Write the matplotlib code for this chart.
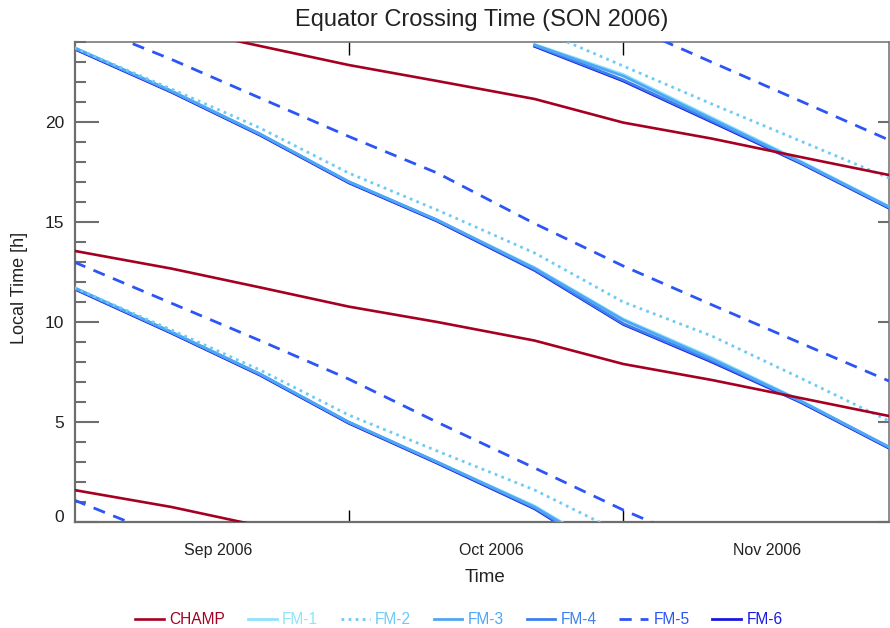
import numpy as np
import pandas as pd
import matplotlib
matplotlib.use("Agg")
import matplotlib.pyplot as plt

plt.rcParams['font.family'] = ['Liberation Sans', 'DejaVu Sans']

# ---------------- data ----------------
dates = ['2006-08-31', '2006-09-11', '2006-09-21', '2006-10-01', '2006-10-11',
         '2006-10-22', '2006-11-01', '2006-11-11', '2006-11-21', '2006-12-01']
nan = np.nan

# Local time of equator crossing [h]
champ_asc  = [13.56, 12.67, 11.73, 10.77, 10.00, 9.07, 7.90, 7.10, 6.20, 5.30]
champ_desc = [25.60, 24.75, 23.80, 22.85, 22.05, 21.15, 19.97, 19.17, 18.25, 17.35]

fm1_asc  = [11.72, 9.50, 7.40, 5.00, 3.00, 0.80, -1.85, nan, nan, nan]
fm1_desc = [23.72, 21.55, 19.40, 17.02, 15.10, 12.72, 10.15, 8.22, 6.08, 3.75]
fm1_next = [nan, nan, nan, nan, nan, 23.88, 22.38, 20.22, 18.05, 15.78]

fm2_asc  = [11.72, 9.60, 7.60, 5.35, 3.55, 1.60, -0.60, nan, nan, nan]
fm2_desc = [23.72, 21.65, 19.70, 17.45, 15.60, 13.45, 11.00, 9.30, 7.20, 5.05]
fm2_next = [nan, nan, nan, nan, nan, 24.70, 22.80, 20.90, 19.05, 17.20]

fm3_asc  = [11.72, 9.50, 7.40, 5.00, 3.00, 0.75, -1.90, nan, nan, nan]
fm3_desc = [23.72, 21.55, 19.40, 17.02, 15.10, 12.68, 10.10, 8.15, 6.05, 3.75]
fm3_next = [nan, nan, nan, nan, nan, 23.85, 22.30, 20.15, 18.00, 15.75]

fm4_asc  = [11.70, 9.48, 7.38, 4.98, 2.98, 0.70, -2.05, nan, nan, nan]
fm4_desc = [23.70, 21.53, 19.38, 17.00, 15.08, 12.62, 9.92, 8.05, 6.03, 3.73]
fm4_next = [nan, nan, nan, nan, nan, 23.82, 22.10, 20.05, 17.98, 15.73]

fm5_asc  = [13.00, 10.94, 9.07, 7.15, 4.99, 2.70, 0.60, -1.30, nan, nan]
fm5_desc = [25.10, 23.13, 21.20, 19.28, 17.45, 14.92, 12.80, 10.86, 8.95, 7.05]
fm5_next = [nan, nan, nan, nan, nan, nan, 24.94, 22.99, 21.05, 19.10]

fm6_asc  = [11.66, 9.44, 7.34, 4.94, 2.94, 0.66, -2.10, nan, nan, nan]
fm6_desc = [23.66, 21.49, 19.34, 16.96, 15.04, 12.58, 9.88, 8.00, 5.99, 3.69]
fm6_next = [nan, nan, nan, nan, nan, 23.78, 22.05, 20.00, 17.94, 15.69]

labels = ['CHAMP', 'FM-1', 'FM-2', 'FM-3', 'FM-4', 'FM-5', 'FM-6']
x_tick_dates = ['2006-10-01', '2006-11-01']
x_label_pos = [15.3, 46.1, 77.2]          # days after 2006-09-01
x_label_txt = ['Sep 2006', 'Oct 2006', 'Nov 2006']

# ---------------- plot ----------------
t0 = pd.Timestamp('2006-09-01')
days = (pd.to_datetime(dates) - t0).days.to_numpy(dtype=float)
tick_days = (pd.to_datetime(x_tick_dates) - t0).days.to_numpy(dtype=float)

fig = plt.figure(figsize=(8.9, 6.28), dpi=100)
ax = fig.add_axes([75/890, 1-522/628, (889-75)/890, (522-42)/628])

styles = {
    'CHAMP': dict(color='#A50021', ls='-', lw=1.9, z=8),
    'FM-1': dict(color='#8FE4FA', ls='-', lw=2.0, z=3),
    'FM-2': dict(color='#6DCBF6', ls=(0, (1.0, 1.55)), lw=2.0, z=6),
    'FM-3': dict(color='#4FA6F5', ls='-', lw=2.0, z=5),
    'FM-4': dict(color='#3C80EE', ls='-', lw=2.0, z=4),
    'FM-5': dict(color='#2B55F5', ls=(0, (4.4, 3.2)), lw=2.0, z=6),
    'FM-6': dict(color='#1818E0', ls='-', lw=2.0, z=2),
}
series = {
    'CHAMP': (champ_asc, champ_desc, None),
    'FM-1': (fm1_asc, fm1_desc, fm1_next),
    'FM-2': (fm2_asc, fm2_desc, fm2_next),
    'FM-3': (fm3_asc, fm3_desc, fm3_next),
    'FM-4': (fm4_asc, fm4_desc, fm4_next),
    'FM-5': (fm5_asc, fm5_desc, fm5_next),
    'FM-6': (fm6_asc, fm6_desc, fm6_next),
}

handles = []
for name in labels:
    st = series[name]
    s = styles[name]
    kw = dict(color=s['color'], linestyle=s['ls'], linewidth=s['lw'],
              zorder=s['z'], solid_joinstyle='round')
    asc, desc, nxt = st
    h, = ax.plot(days, np.array(asc, float), label=name, **kw)
    ax.plot(days, np.array(desc, float), **kw)
    ax.plot(days, np.array(desc, float) - 24, **kw)
    if nxt is not None:
        ax.plot(days, np.array(nxt, float), **kw)
    handles.append(h)

ax.set_xlim(-0.89, 91.0)
ax.set_ylim(0, 24)

gray = '#6e6e6e'
for side in ['left', 'bottom']:
    ax.spines[side].set_color(gray)
    ax.spines[side].set_linewidth(1.6)
for side in ['top', 'right']:
    ax.spines[side].set_color(gray)
    ax.spines[side].set_linewidth(1.1)

ax.set_xticks(tick_days)
ax.set_xticklabels([])
ax.set_xticks(x_label_pos, minor=True)
ax.set_xticklabels(x_label_txt, minor=True)
ax.tick_params(axis='x', which='major', direction='in', length=9, width=1.0,
               color='black', top=True, bottom=True, labelbottom=False)
ax.tick_params(axis='x', which='minor', length=0, pad=15, labelsize=11.5,
               colors='#222222')

ax.set_yticks([0, 5, 10, 15, 20])
ax.set_yticks(np.arange(0, 25, 1), minor=True)
ax.tick_params(axis='y', which='major', direction='in', length=17, width=1.5,
               color=gray, left=True, right=False, labelsize=12.5, pad=8,
               labelcolor='#222222')
ax.tick_params(axis='y', which='minor', direction='in', length=8, width=1.5,
               color=gray, left=True, right=False)
ax.get_yticklabels()[0].set_va('baseline')

sec = ax.secondary_yaxis('right')
sec.set_yticks([0, 5, 10, 15, 20])
sec.tick_params(direction='in', length=8, width=1.5, color=gray,
                labelright=False)
sec.spines['right'].set_visible(False)

fig.text(482/890, 1-20/628, 'Equator Crossing Time (SON 2006)', ha='center',
         va='center', fontsize=17, color='#222222')
fig.text(20/890, 1-288/628, 'Local Time [h]', rotation=90, ha='center',
         va='center', fontsize=13, color='#222222')
fig.text(485/890, 1-578/628, 'Time', ha='center', va='center', fontsize=13.5,
         color='#222222')

fig.legend(handles, labels, loc='center', bbox_to_anchor=(459/890, 1-620/628),
           ncol=7, frameon=False, fontsize=11.2, handlelength=1.85,
           handletextpad=0.35, columnspacing=1.45, labelcolor='linecolor',
           borderaxespad=0, borderpad=0)

fig.savefig('out.png', dpi=100)
